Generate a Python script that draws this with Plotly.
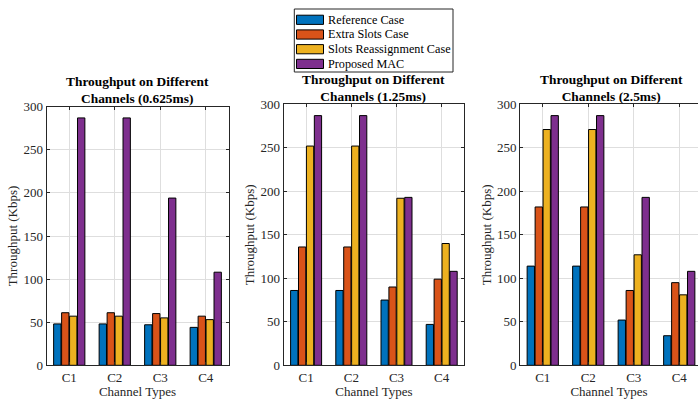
import plotly.graph_objects as go

# Channel categories and series (throughput in Kbps)
channels = ["C1", "C2", "C3", "C4"]
series_names = ["Reference Case", "Extra Slots Case", "Slots Reassignment Case", "Proposed MAC"]
series_colors = ["#0072BD", "#D95319", "#EDB120", "#7E2F8E"]

# 0.625 ms slot
ref_0625 = [48, 48, 47, 44]
extra_0625 = [61, 61, 60, 57]
reassign_0625 = [57, 57, 55, 53]
mac_0625 = [287, 287, 194, 108]

# 1.25 ms slot
ref_125 = [86, 86, 75, 47]
extra_125 = [136, 136, 90, 99]
reassign_125 = [252, 252, 192, 140]
mac_125 = [287, 287, 193, 108]

# 2.5 ms slot
ref_25 = [114, 114, 52, 34]
extra_25 = [182, 182, 86, 95]
reassign_25 = [271, 271, 127, 81]
mac_25 = [287, 287, 193, 108]

panel_titles = [
    "Throughput on Different<br>Channels (0.625ms)",
    "Throughput on Different<br>Channels (1.25ms)",
    "Throughput on Different<br>Channels (2.5ms)",
]
panels = [
    [ref_0625, extra_0625, reassign_0625, mac_0625],
    [ref_125, extra_125, reassign_125, mac_125],
    [ref_25, extra_25, reassign_25, mac_25],
]
y_ticks = [0, 50, 100, 150, 200, 250, 300]

W, H = 698, 399
FONT = "Liberation Serif, Times New Roman, serif"
AX = "#262626"
GRID = "#dedede"
FS = 13

# axes placement in pixels: (left, right, top, bottom)
boxes = [(46.5, 228.5, 106.7, 365.3), (283.5, 464.3, 104.3, 365.3), (520.0, 702.0, 104.3, 365.3)]

fig = go.Figure()

for p, data in enumerate(panels):
    xa = "x" if p == 0 else f"x{p + 1}"
    ya = "y" if p == 0 else f"y{p + 1}"
    for name, color, vals in zip(series_names, series_colors, data):
        fig.add_trace(go.Bar(
            x=channels, y=vals, name=name, xaxis=xa, yaxis=ya,
            marker=dict(color=color, line=dict(color="#000000", width=1)),
            showlegend=False,
        ))

layout = dict(
    width=W, height=H,
    margin=dict(l=0, r=0, t=0, b=0),
    paper_bgcolor="white", plot_bgcolor="white",
    barmode="group", bargap=0.3, bargroupgap=0.08,
    font=dict(family=FONT, size=FS, color=AX),
    showlegend=False,
    annotations=[],
    shapes=[],
)

for p, (l, r, t, b) in enumerate(boxes):
    sfx = "" if p == 0 else str(p + 1)
    px_per_cat = (r - l) / 4
    right_px = min(r, W)
    x_hi = 3.5 - (r - right_px) / px_per_cat
    clipped = r > W
    layout[f"xaxis{sfx}"] = dict(
        domain=[l / W, right_px / W], anchor=f"y{sfx}", range=[-0.5, x_hi],
        type="category", showline=True, linecolor=AX, linewidth=1,
        mirror="ticks", ticks="inside", ticklen=3, tickcolor=AX,
        showgrid=True, gridcolor=GRID, gridwidth=1,
        tickfont=dict(family=FONT, size=FS, color=AX),
        title=dict(text="Channel Types", font=dict(family=FONT, size=FS, color=AX), standoff=0),
        automargin=False, fixedrange=True,
    )
    layout[f"yaxis{sfx}"] = dict(
        domain=[1 - b / H, 1 - t / H], anchor=f"x{sfx}", range=[0, 300],
        tickvals=y_ticks, showline=True, linecolor=AX, linewidth=1,
        mirror=(False if clipped else "ticks"), ticks="inside", ticklen=3, tickcolor=AX,
        showgrid=True, gridcolor=GRID, gridwidth=1, zeroline=False,
        tickfont=dict(family=FONT, size=FS, color=AX),
        title=dict(text="Throughput (Kbps)", font=dict(family=FONT, size=FS, color=AX), standoff=2),
        automargin=False, fixedrange=True,
    )
    layout["annotations"].append(dict(
        text=f"<b>{panel_titles[p]}</b>", xref="paper", yref="paper",
        x=((l + r) / 2) / W, y=1 - (t - 16.5) / H, xanchor="center", yanchor="middle",
        showarrow=False, font=dict(family=FONT, size=13.4, color="#000000"),
    ))

# Legend box with colour patches, laid out in pixel units
leg_l, leg_r, leg_t, leg_b = 294.3, 453.0, 9.0, 72.0
layout["shapes"].append(dict(
    type="rect", xref="paper", yref="paper",
    x0=leg_l / W, x1=leg_r / W, y0=1 - leg_b / H, y1=1 - leg_t / H,
    line=dict(color=AX, width=1), fillcolor="white", layer="above",
))
row_y0, row_step = 19.8, 14.7
for i, (name, color) in enumerate(zip(series_names, series_colors)):
    cy = row_y0 + i * row_step
    layout["shapes"].append(dict(
        type="rect", xref="paper", yref="paper",
        x0=296.5 / W, x1=323.5 / W, y0=1 - (cy + 4.6) / H, y1=1 - (cy - 4.6) / H,
        line=dict(color="#000000", width=1), fillcolor=color, layer="above",
    ))
    layout["annotations"].append(dict(
        text=name, xref="paper", yref="paper",
        x=325.5 / W, y=1 - cy / H, xanchor="left", yanchor="middle",
        showarrow=False, font=dict(family=FONT, size=12.2, color="#000000"),
    ))

fig.update_layout(**layout)
fig.write_html("out.html")
